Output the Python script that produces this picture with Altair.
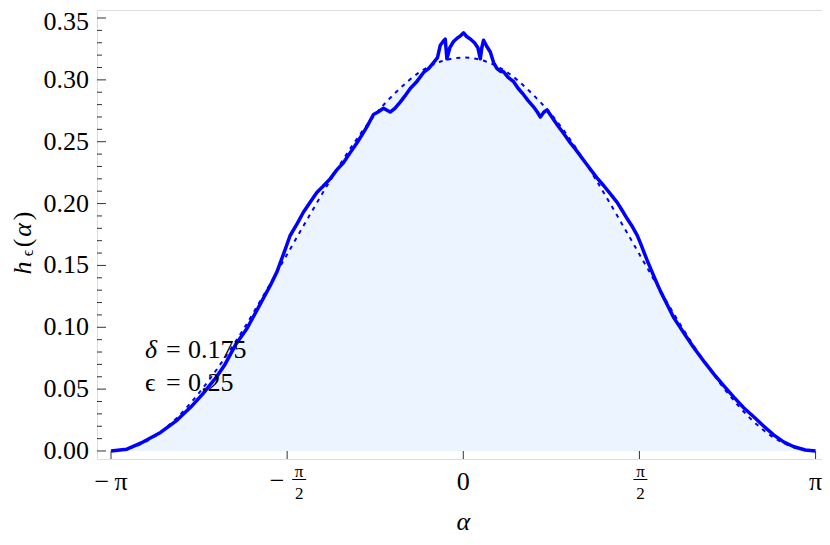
import altair as alt
import pandas as pd

# ---- data ----
alpha_solid = [-3.1416, -3.00, -2.857, -2.70, -2.554, -2.43, -2.321, -2.20, -2.125, -2.03, -1.929,
               -1.8125, -1.72, -1.661, -1.60, -1.545, -1.48, -1.426, -1.366, -1.306, -1.25,
               -1.1875, -1.13, -1.069, -1.01, -0.949, -0.90, -0.860, -0.801, -0.76, -0.712,
               -0.652, -0.61, -0.5625, -0.52, -0.473, -0.42, -0.354, -0.31, -0.265, -0.23,
               -0.205, -0.18, -0.161, -0.146, -0.12, -0.087, -0.05, -0.02, 0.003, 0.03,
               0.0625, 0.10, 0.13, 0.152, 0.165, 0.181, 0.21, 0.241, 0.27, 0.301, 0.330,
               0.360, 0.40, 0.449, 0.49, 0.538, 0.58, 0.628, 0.66, 0.6875, 0.72, 0.747,
               0.79, 0.837, 0.90, 0.955, 1.00, 1.045, 1.09, 1.134, 1.19, 1.253, 1.31,
               1.372, 1.42, 1.462, 1.51, 1.551, 1.580, 1.610, 1.640, 1.670, 1.71, 1.759,
               1.82, 1.878, 1.97, 2.056, 2.15, 2.235, 2.32, 2.413, 2.50, 2.592, 2.68,
               2.770, 2.86, 2.949, 3.05, 3.1416]
h_solid = [0.0, 0.0015, 0.0072, 0.0150, 0.0248, 0.0355, 0.0464, 0.0600, 0.0700, 0.0860, 0.0990,
           0.1185, 0.1340, 0.1450, 0.1600, 0.1740, 0.1840, 0.1930, 0.2010, 0.2090, 0.2140,
           0.2200, 0.2270, 0.2330, 0.2410, 0.2490, 0.2560, 0.2620, 0.2720, 0.2740, 0.2770,
           0.2740, 0.2770, 0.2820, 0.2870, 0.2930, 0.2980, 0.3060, 0.3090, 0.3140, 0.3180,
           0.3280, 0.3310, 0.3330, 0.3170, 0.3260, 0.3310, 0.3340, 0.3360, 0.3380, 0.3350,
           0.3330, 0.3300, 0.3260, 0.3170, 0.3260, 0.3320, 0.3270, 0.3225, 0.3140, 0.3090,
           0.3070, 0.3065, 0.3020, 0.2985, 0.2930, 0.2880, 0.2830, 0.2780, 0.2740, 0.2700,
           0.2740, 0.2757, 0.2700, 0.2637, 0.2560, 0.2490, 0.2440, 0.2384, 0.2330, 0.2277,
           0.2210, 0.2144, 0.2080, 0.2010, 0.1940, 0.1877, 0.1810, 0.1743, 0.1680, 0.1610,
           0.1540, 0.1476, 0.1390, 0.1290, 0.1180, 0.1076, 0.0950, 0.0835, 0.0720, 0.0622,
           0.0530, 0.0435, 0.0350, 0.0275, 0.0200, 0.0128, 0.0072, 0.0034, 0.0008, 0.0]

alpha_dash = [-3.1416, -2.9452, -2.7489, -2.5525, -2.3562, -2.1598, -1.9635, -1.7671, -1.5708,
              -1.3744, -1.1781, -0.9817, -0.7854, -0.5890, -0.3927, -0.1963, 0.0,
              0.1963, 0.3927, 0.5890, 0.7854, 0.9817, 1.1781, 1.3744, 1.5708,
              1.7671, 1.9635, 2.1598, 2.3562, 2.5525, 2.7489, 2.9452, 3.1416]
h_dash = [0.0, 0.003, 0.012, 0.027, 0.047, 0.071, 0.098, 0.128, 0.159,
          0.190, 0.220, 0.248, 0.272, 0.291, 0.306, 0.315, 0.318,
          0.315, 0.306, 0.291, 0.272, 0.248, 0.220, 0.190, 0.159,
          0.128, 0.098, 0.071, 0.047, 0.027, 0.012, 0.003, 0.0]

y_major = [0.0, 0.05, 0.10, 0.15, 0.20, 0.25, 0.30, 0.35]
y_major_labels = ["0.00", "0.05", "0.10", "0.15", "0.20", "0.25", "0.30", "0.35"]
y_minor = [0.01, 0.02, 0.03, 0.04, 0.06, 0.07, 0.08, 0.09, 0.11, 0.12, 0.13, 0.14,
           0.16, 0.17, 0.18, 0.19, 0.21, 0.22, 0.23, 0.24, 0.26, 0.27, 0.28, 0.29,
           0.31, 0.32, 0.33, 0.34]
x_ticks = [-3.1416, -1.5708, 0.0, 1.5708, 3.1416]
x_plain_labels = ["\u2212\u2009\u03c0", "0", "\u03c0"]
x_plain_pos = [-3.1416, 0.0, 3.1416]

annot_pos = [(-2.839, 0.0753), (-2.839, 0.0489)]
annot_sym = ["\u03b4", "\u03f5"]
annot_val = ["0.175", "0.25"]

# ---- layout / style ----
W, H = 725, 449
FONT = "Liberation Serif"
FS = 26
BLUE = "#0000ff"
INK = "#000000"
TICK = "#333333"

xs = alt.Scale(domain=[-3.2666, 3.199], nice=False, zero=False)
ys = alt.Scale(domain=[-0.00647, 0.35647], nice=False, zero=False)

solid = pd.DataFrame({"a": alpha_solid, "h": h_solid})
dash = pd.DataFrame({"a": alpha_dash, "h": h_dash})

X = alt.X("a:Q", scale=xs, axis=None)
Yh = alt.Y("h:Q", scale=ys, axis=None)
Yv = alt.Y("v:Q", scale=ys, axis=None)

area = alt.Chart(dash).mark_area(color="#ebf4ff", opacity=1, interpolate="monotone").encode(x=X, y=Yh)
dline = alt.Chart(dash).mark_line(color=BLUE, strokeWidth=2, strokeDash=[4, 5],
                                  interpolate="monotone").encode(x=X, y=Yh)
sline = alt.Chart(solid).mark_line(color=BLUE, strokeWidth=3.5, strokeJoin="round").encode(x=X, y=Yh)

ymaj_df = pd.DataFrame({"v": y_major, "t": y_major_labels})
ymaj = alt.Chart(ymaj_df).mark_rule(color=TICK, strokeWidth=1).encode(
    y=Yv, x=alt.value(0), x2=alt.value(9))
ymin = alt.Chart(pd.DataFrame({"v": y_minor})).mark_rule(color=TICK, strokeWidth=1).encode(
    y=Yv, x=alt.value(0), x2=alt.value(5))
ylab = alt.Chart(ymaj_df.iloc[:-1]).mark_text(font=FONT, fontSize=FS, color=INK, align="right",
                                              baseline="middle").encode(y=Yv, x=alt.value(-8), text="t:N")
ylab_top = alt.Chart(ymaj_df.iloc[-1:]).mark_text(font=FONT, fontSize=FS, color=INK, align="right",
                                                  baseline="middle", dy=4).encode(
    y=Yv, x=alt.value(-8), text="t:N")
xt = alt.Chart(pd.DataFrame({"a": x_ticks})).mark_rule(color=TICK, strokeWidth=1).encode(
    x=X, y=alt.value(H), y2=alt.value(H - 8))

xlab = alt.Chart(pd.DataFrame({"a": x_plain_pos, "t": x_plain_labels})).mark_text(
    font=FONT, fontSize=FS, color=INK, baseline="middle", align="center").encode(
    x=X, y=alt.value(472), text="t:N")

neg_half = pd.DataFrame({"a": [x_ticks[1]]})
pos_half = pd.DataFrame({"a": [x_ticks[3]]})
minus = alt.Chart(neg_half).mark_text(font=FONT, fontSize=FS, color=INK, baseline="middle",
                                      align="center", dx=-10, text="\u2212").encode(x=X, y=alt.value(471))
num_n = alt.Chart(neg_half).mark_text(font=FONT, fontSize=17, color=INK, baseline="middle",
                                      align="center", dx=12, text="\u03c0").encode(x=X, y=alt.value(462))
den_n = alt.Chart(neg_half).mark_text(font=FONT, fontSize=17, color=INK, baseline="middle",
                                      align="center", dx=12, text="2").encode(x=X, y=alt.value(484))
bar_n = alt.Chart(neg_half).mark_rule(color=INK, strokeWidth=1, xOffset=5, x2Offset=19).encode(
    x=X, x2="a:Q", y=alt.value(469.5))
num_p = alt.Chart(pos_half).mark_text(font=FONT, fontSize=17, color=INK, baseline="middle",
                                      align="center", dx=1, text="\u03c0").encode(x=X, y=alt.value(462))
den_p = alt.Chart(pos_half).mark_text(font=FONT, fontSize=17, color=INK, baseline="middle",
                                      align="center", dx=1, text="2").encode(x=X, y=alt.value(484))
bar_p = alt.Chart(pos_half).mark_rule(color=INK, strokeWidth=1, xOffset=-6, x2Offset=8).encode(
    x=X, x2="a:Q", y=alt.value(469.5))

xtitle = alt.Chart(pd.DataFrame({"a": [0.0]})).mark_text(
    font=FONT, fontSize=FS, fontStyle="italic", color=INK, baseline="middle", align="center",
    text="\u03b1").encode(x=X, y=alt.value(512))

def ypiece(t, xv, yv, fs=FS, style="normal"):
    return alt.Chart(pd.DataFrame({"k": [0]})).mark_text(
        font=FONT, fontSize=fs, fontStyle=style, color=INK, angle=270, baseline="alphabetic",
        align="center", text=t).encode(x=alt.value(xv), y=alt.value(yv))

ytitle = [
    ypiece("h", -66, 258, style="italic"),
    ypiece("\u03f5", -64, 243, fs=16),
    ypiece("(", -66, 233),
    ypiece("\u03b1", -66, 220, style="italic"),
    ypiece(")", -66, 206),
]

adf = pd.DataFrame({"a": [p[0] for p in annot_pos], "h": [p[1] for p in annot_pos],
                    "sym": annot_sym, "val": annot_val})
a_delta = alt.Chart(adf.iloc[[0]]).mark_text(font=FONT, fontSize=FS, fontStyle="italic", color=INK,
                                             align="left", baseline="alphabetic").encode(
    x=X, y=Yh, text="sym:N")
a_eps = alt.Chart(adf.iloc[[1]]).mark_text(font=FONT, fontSize=FS, color=INK,
                                           align="left", baseline="alphabetic").encode(
    x=X, y=Yh, text="sym:N")
a_eq = alt.Chart(adf).mark_text(font=FONT, fontSize=FS, color=INK, align="center",
                                baseline="alphabetic", dx=28.5, text="=").encode(x=X, y=Yh)
a_val = alt.Chart(adf).mark_text(font=FONT, fontSize=FS, color=INK, align="left",
                                 baseline="alphabetic", dx=43).encode(x=X, y=Yh, text="val:N")

chart = alt.layer(
    area, dline, sline, ymaj, ymin, ylab, ylab_top, xt, xlab, minus, num_n, den_n, bar_n,
    num_p, den_p, bar_p, xtitle, *ytitle, a_delta, a_eps, a_eq, a_val
).properties(
    width=W, height=H,
    padding={"left": 89, "top": 2, "right": 0, "bottom": 78},
    autosize=alt.AutoSizeParams(type="none"),
).configure_view(stroke="#333333", strokeWidth=1.5).configure(background="white")

chart.save("out.html", embed_options={"renderer": "svg", "actions": False})
